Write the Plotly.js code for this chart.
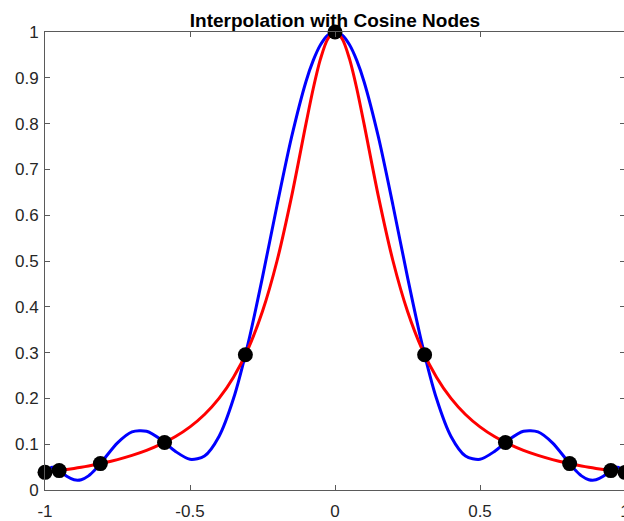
<!DOCTYPE html>
<html>
<head>
<meta charset="utf-8">
<script src="https://cdn.plot.ly/plotly-3.0.1.min.js"></script>
<style>html,body{margin:0;padding:0;overflow:hidden;background:#fff;}</style>
</head>
<body>
<div id="chart"></div>
<script>
// Sample positions (right half; left half mirrors)
const xHalf = [0, 0.025, 0.05, 0.075, 0.1, 0.15, 0.2, 0.25, 0.3, 0.35, 0.4, 0.45, 0.5, 0.55, 0.6, 0.65, 0.7, 0.75, 0.8, 0.825, 0.85, 0.875, 0.9, 0.925, 0.95, 0.975, 1];
// Red curve (function) values
const redHalf = [1, 0.9846, 0.9412, 0.8767, 0.8, 0.64, 0.5, 0.3902, 0.3077, 0.2462, 0.2, 0.1649, 0.1379, 0.1168, 0.1, 0.0865, 0.0755, 0.0664, 0.0588, 0.0555, 0.0525, 0.0497, 0.0471, 0.0447, 0.0424, 0.0404, 0.0385];
// Blue curve (interpolant) values
const blueHalf = [1, 0.9930, 0.9721, 0.9380, 0.8919, 0.7698, 0.6213, 0.4649, 0.3191, 0.1996, 0.1169, 0.0742, 0.0671, 0.0842, 0.1100, 0.1282, 0.1269, 0.1030, 0.0647, 0.0458, 0.0309, 0.0225, 0.0223, 0.0299, 0.0419, 0.0498, 0.0385];
// Cosine nodes
const nodeX = [-1, -0.9511, -0.8090, -0.5878, -0.3090, 0, 0.3090, 0.5878, 0.8090, 0.9511, 1];
const nodeY = [0.0385, 0.0424, 0.0576, 0.1038, 0.2952, 1, 0.2952, 0.1038, 0.0576, 0.0424, 0.0385];
const xTicks = [-1, -0.5, 0, 0.5, 1];
const xTickText = ['-1', '-0.5', '0', '0.5', '1'];
const yTicks = [0, 0.1, 0.2, 0.3, 0.4, 0.5, 0.6, 0.7, 0.8, 0.9, 1];
const yTickText = ['0', '0.1', '0.2', '0.3', '0.4', '0.5', '0.6', '0.7', '0.8', '0.9', '1'];

function mirrorX(a){ return a.slice(1).reverse().map(v=>-v).concat(a); }
function mirrorY(a){ return a.slice(1).reverse().concat(a); }
const xs = mirrorX(xHalf);

const traces = [
  {x: xs, y: mirrorY(blueHalf), mode: 'lines', line: {color: '#0000ff', width: 3, shape: 'spline', smoothing: 0.8}, hoverinfo: 'skip'},
  {x: xs, y: mirrorY(redHalf), mode: 'lines', line: {color: '#ff0000', width: 3, shape: 'spline', smoothing: 0.8}, hoverinfo: 'skip'},
  {x: nodeX, y: nodeY, mode: 'markers', marker: {color: '#000000', size: 15}, cliponaxis: false, hoverinfo: 'skip'}
];

const axisCommon = {
  showgrid: false, zeroline: false, showline: true, mirror: 'ticks',
  linecolor: '#5a5a5a', linewidth: 1, ticks: 'inside', ticklen: 5, tickcolor: '#5a5a5a',
  tickfont: {family: 'Liberation Sans, Arial, sans-serif', size: 17, color: '#262626'},
  tickmode: 'array'
};

const layout = {
  width: 650, height: 521,
  margin: {l: 45, r: 25, t: 32, b: 31},
  paper_bgcolor: '#ffffff', plot_bgcolor: '#ffffff',
  showlegend: false,
  title: {text: '<b>Interpolation with Cosine Nodes</b>', x: 0.5, xref: 'paper', y: 1, yref: 'paper', yanchor: 'bottom', pad: {b: 5},
          font: {family: 'Liberation Sans, Arial, sans-serif', size: 19, color: '#000000'}},
  xaxis: Object.assign({}, axisCommon, {range: [-1, 1], tickvals: xTicks, ticktext: xTickText, ticklabelstandoff: 6}),
  yaxis: Object.assign({}, axisCommon, {range: [0, 1], tickvals: yTicks, ticktext: yTickText, ticklabelstandoff: 2})
};

Plotly.newPlot('chart', traces, layout, {displayModeBar: false, staticPlot: true});
</script>
</body>
</html>
